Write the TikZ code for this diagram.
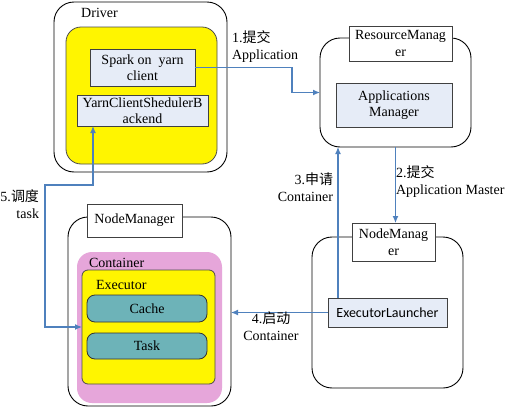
\documentclass[tikz,border=0pt]{standalone}
\usepackage{fontspec}
\setmainfont{Liberation Serif}
\newfontfamily\cjk{Noto Sans CJK SC}
\newfontfamily\calib{Carlito}
\usetikzlibrary{arrows.meta}
\definecolor{arrblue}{HTML}{4F81BD}
\definecolor{ylw}{HTML}{FFF500}
\definecolor{pnk}{HTML}{E6A6DA}
\definecolor{teal2}{HTML}{6DB3B8}
\definecolor{lblue}{HTML}{E6ECF7}
\definecolor{edge}{HTML}{404040}
\begin{document}
\begin{tikzpicture}[x=1pt,y=-1pt,
  every node/.style={font=\fontsize{14}{16.5}\selectfont, inner sep=0pt, outer sep=0pt},
  outerbox/.style={draw=black, line width=0.9pt, rounded corners=20pt, fill=white},
  lbox/.style={draw=edge, line width=0.9pt, fill=lblue, align=center},
  wbox/.style={draw=edge, line width=0.9pt, fill=white, align=center},
  ybox/.style={draw=black!70, line width=0.8pt, fill=ylw},
  tbox/.style={draw=black!80, line width=0.8pt, fill=teal2, rounded corners=8pt},
  arr/.style={draw=arrblue, line width=1.2pt, -{Latex[length=7pt,width=6pt]}},
  arrb/.style={draw=arrblue, line width=1.2pt, {Latex[length=7pt,width=6pt]}-{Latex[length=7pt,width=6pt]}},
  lbl/.style={align=left}]
\useasboundingbox (0,0) rectangle (507,407);
% Driver
\node[outerbox, minimum width=173pt, minimum height=170pt] (driver) at (140.5,87) {};
\node (driverl) at (99.5,13) {Driver};
\node[ybox, rounded corners=15pt, minimum width=151pt, minimum height=137pt] (ydrv) at (141.5,95.5) {};
\node[lbox, minimum width=105pt, minimum height=37pt] (spark) at (142.5,67.5) {Spark on\ \ yarn\\client};
\node[lbox, minimum width=131pt, minimum height=31pt] (yarn) at (142.5,110.5) {YarnClientShedulerB\\ackend};
% ResourceManager
\node[outerbox, minimum width=151pt, minimum height=109pt] (rm) at (395.5,92.5) {};
\node[wbox, minimum width=103pt, minimum height=35pt] (rml) at (400.5,43.5) {ResourceManag\\er};
\node[lbox, minimum width=116pt, minimum height=44pt] (am) at (394,105) {Applications\\Manager};
% Right NodeManager
\node[outerbox, minimum width=151pt, minimum height=151pt] (nmr) at (387.5,312.5) {};
\node[wbox, minimum width=83pt, minimum height=38pt] (nmrl) at (393.5,242) {NodeManag\\er};
\node[lbox, minimum width=119pt, minimum height=29pt, font=\calib\fontsize{14}{16.5}\selectfont] (el) at (387.5,312.5) {ExecutorLauncher};
% Left NodeManager
\node[outerbox, minimum width=163pt, minimum height=189pt] (nml) at (149.5,311.5) {};
\node[wbox, minimum width=95pt, minimum height=33pt] (nmll) at (134.5,220.5) {NodeManager};
\node[fill=pnk, rounded corners=15pt, minimum width=145pt, minimum height=151pt] (cont) at (149.5,327.5) {};
\node[anchor=west] (contl) at (89,263) {Container};
\node[ybox, rounded corners=6pt, minimum width=133pt, minimum height=114pt] (exec) at (148.5,327) {};
\node[anchor=west] (execl) at (96,285) {Executor};
\node[tbox, minimum width=120pt, minimum height=27pt] (cache) at (147,308.5) {Cache};
\node[tbox, minimum width=120pt, minimum height=26pt] (task) at (147,346) {Task};
% connectors
\coordinate (c1) at (292,67.5);
\draw[arr] (spark.east) -- (c1) |- (rm.west);
\draw[arr] (rm.south) -- (rm.south |- nmrl.north);
\draw[arr] ([xshift=10pt]el.north west) -- ([xshift=10pt]el.north west |- rm.south);
\draw[arr] (el.west) -- (nml.east |- el.west);
\coordinate (c5) at (45,185);
\draw[arrb] ([xshift=16pt]yarn.south west) |- (c5) |- (exec.west);
% labels
\node[lbl, anchor=north west] (l1) at (232,31) {1.{\cjk 提交}\\Application};
\node[lbl, anchor=north west] (l2) at (396,166) {2.{\cjk 提交}\\Application Master};
\node[align=right, anchor=north east] (l3) at (333,173) {3.{\cjk 申请}\\Container};
\node[align=center, anchor=north] (l4) at (271,312) {4.{\cjk 启动}\\Container};
\node[align=right, anchor=north east] (l5) at (39,190) {5.{\cjk 调度}\\task};
\end{tikzpicture}
\end{document}
